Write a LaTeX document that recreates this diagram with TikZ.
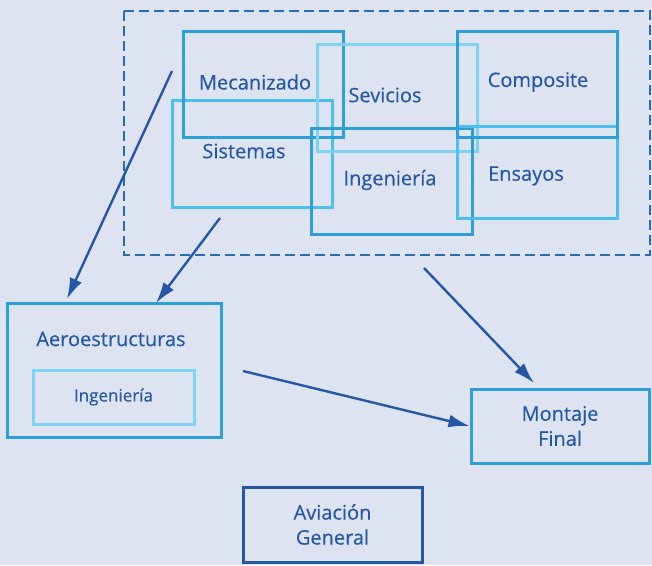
\documentclass[tikz,border=0pt]{standalone}
\usepackage{fontspec}
\setmainfont{Open Sans}[UprightFeatures={FakeBold=0.35}]
\usetikzlibrary{arrows.meta}
\definecolor{bgcol}{RGB}{221,227,240}
\definecolor{darkcol}{RGB}{37,87,167}
\definecolor{midcol}{RGB}{42,159,216}
\definecolor{skycol}{RGB}{77,191,236}
\definecolor{palecol}{RGB}{126,211,245}
\tikzset{
    box/.style={draw, line width=3pt, inner sep=0pt},
    lbl/.style={text=darkcol, font=\fontsize{20}{25}\selectfont, align=center},
    flow/.style={draw=darkcol, line width=2.4pt, -{Latex[length=21pt,width=13pt]}}
}
\begin{document}
\begin{tikzpicture}[x=1pt, y=-1pt]
    \fill[bgcol] (0,0) rectangle (652,565);
    \useasboundingbox (0,0) rectangle (652,565);

    % Cluster
    \draw[darkcol!70!midcol, line width=1.3pt, dash pattern=on 10pt off 5pt] (124,11) rectangle (650,255);
    \node[box, draw=skycol, minimum width=160pt, minimum height=107pt] (sist) at (252,153.5) {};
    \node[box, draw=midcol, minimum width=160pt, minimum height=106pt] (meca) at (263,84) {};
    \node[box, draw=palecol, minimum width=160pt, minimum height=107pt] (serv) at (397,97.5) {};
    \node[box, draw=midcol, minimum width=161pt, minimum height=106pt] (inge) at (391.5,181) {};
    \node[box, draw=skycol, minimum width=160pt, minimum height=92pt] (ensa) at (537,172) {};
    \node[box, draw=midcol, minimum width=160pt, minimum height=106pt] (comp) at (537,84) {};
    \node[lbl] (mecat) at (255,82) {Mecanizado};
    \node[lbl] (sistt) at (244,151) {Sistemas};
    \node[lbl] (servt) at (385,95) {Sevicios};
    \node[lbl] (inget) at (390,180) {Ingeniería};
    \node[lbl] (compt) at (538,82) {Composite};
    \node[lbl] (ensat) at (526,176) {Ensayos};

    % Aeroestructuras
    \node[box, draw=midcol, minimum width=214pt, minimum height=134pt] (aero) at (114,370) {};
    \node[lbl] (aerot) at (111,339) {Aeroestructuras};
    \node[box, draw=palecol, minimum width=161pt, minimum height=54pt, lbl, font=\fontsize{17}{20}\selectfont] (aeroi) at (113.5,397) {Ingeniería};

    % Montaje and Aviacion
    \node[box, draw=midcol, minimum width=178pt, minimum height=74pt, lbl] (mont) at (560,426) {Montaje\\Final};
    \node[box, draw=darkcol, minimum width=179pt, minimum height=75pt, lbl] (avia) at (332.5,524.5) {Aviación\\General};

    % Flows
    \coordinate (s1) at (172,71);
    \coordinate (e1) at (67,299);
    \coordinate (s2) at (220,218);
    \coordinate (e2) at (156,303);
    \coordinate (s3) at (243,371);
    \coordinate (s4) at (424,268);
    \coordinate (e4) at (534,383);
    \draw[flow] (s1) -- (e1);
    \draw[flow] (s2) -- (e2);
    \draw[flow] (s3) -- (mont.west);
    \draw[flow] (s4) -- (e4);
\end{tikzpicture}
\end{document}
